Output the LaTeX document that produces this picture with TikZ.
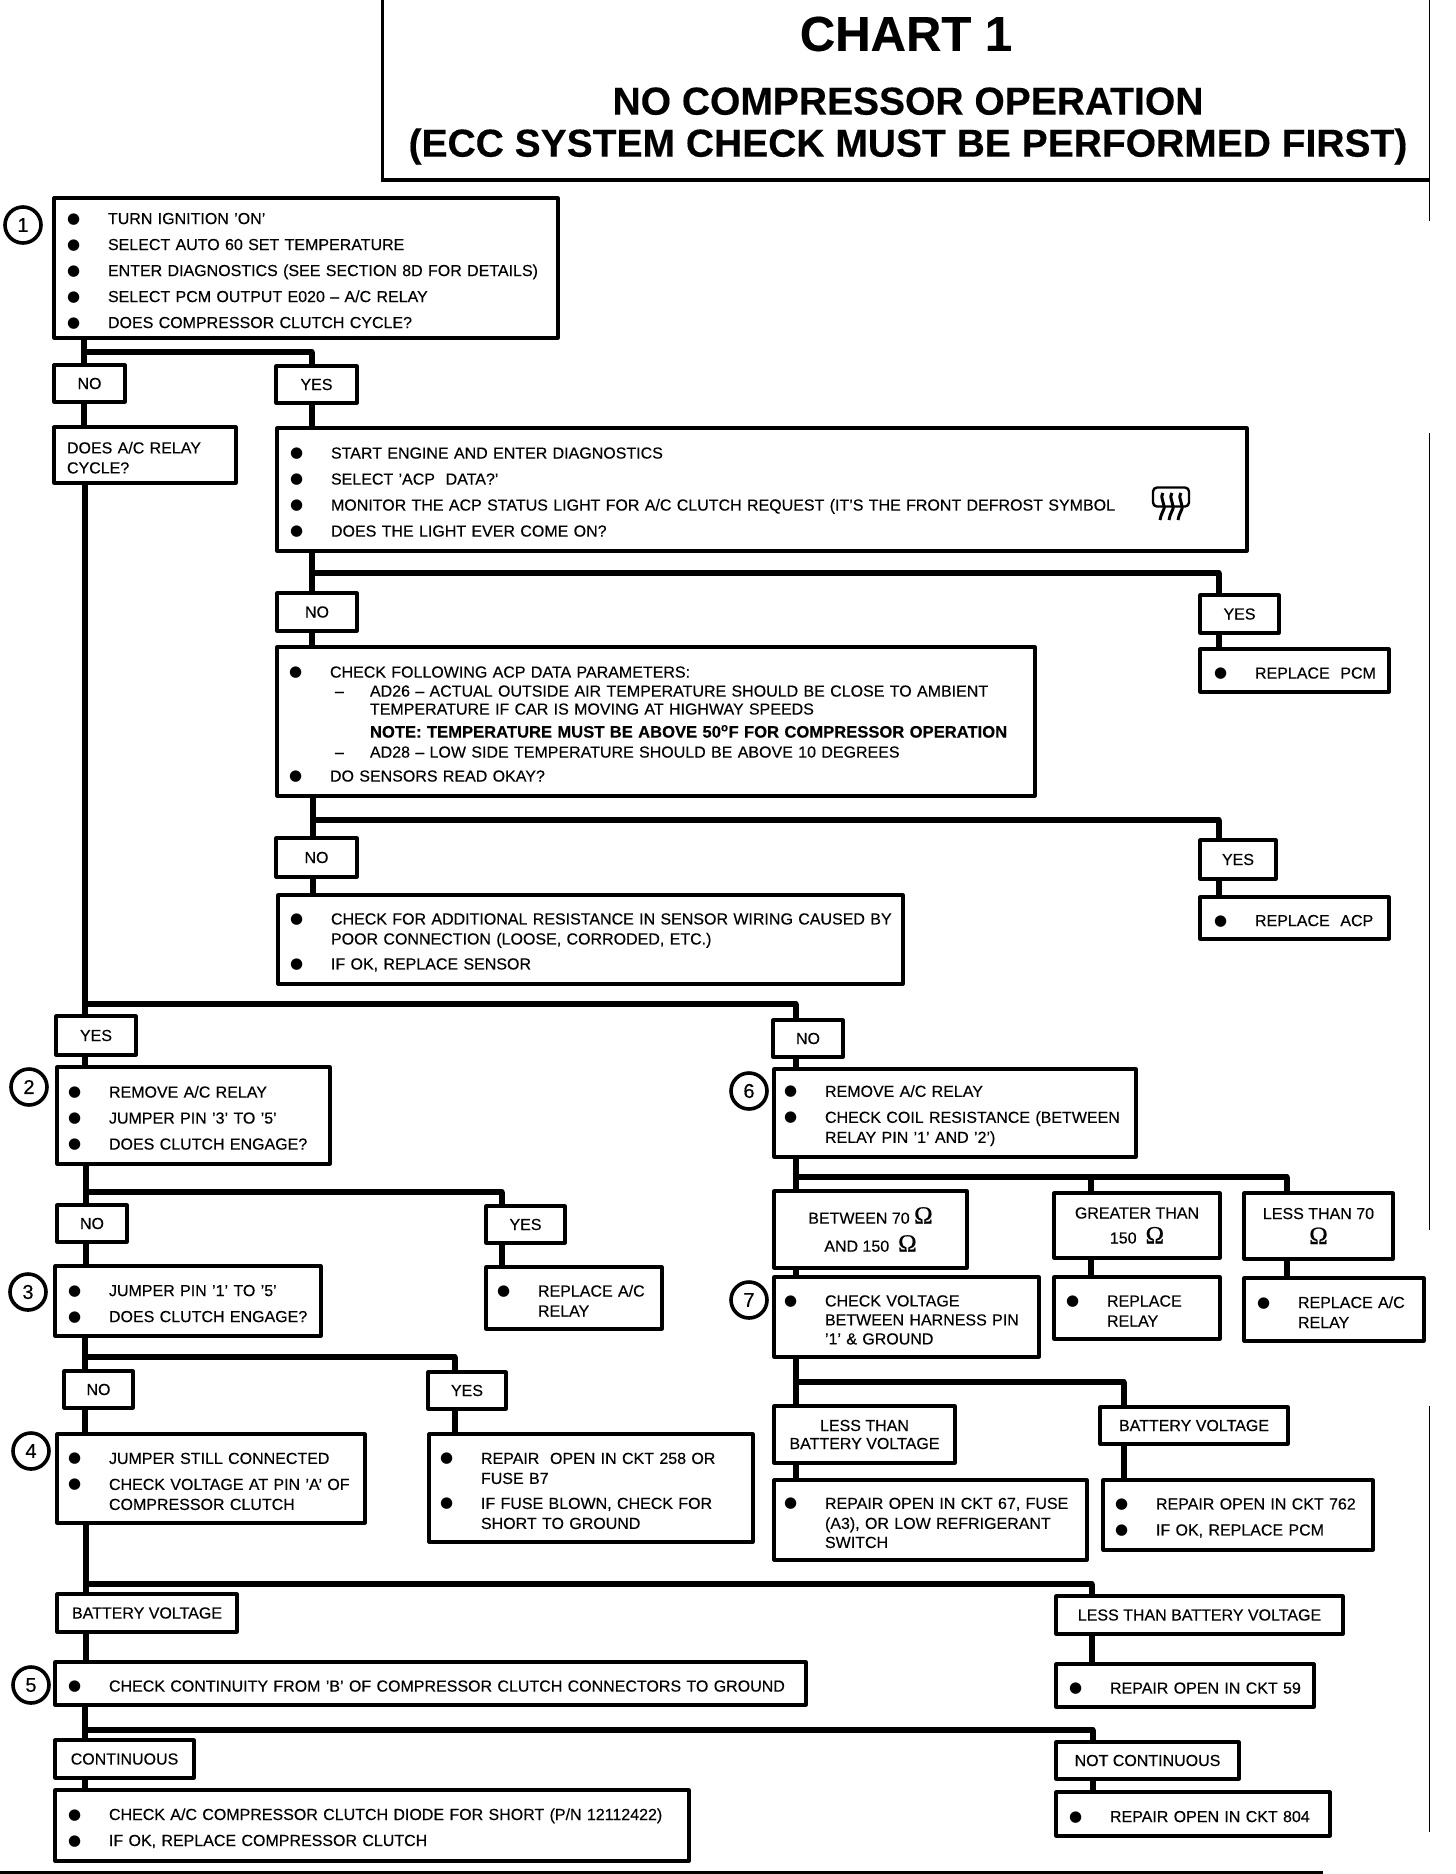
\documentclass[tikz,border=0pt]{standalone}
\usepackage{fontspec}
\setmainfont{Liberation Sans}[FakeBold=0.3]
\newfontfamily\ohmfont{Liberation Serif}[FakeBold=0.6]
\newfontfamily\dotfont{DejaVu Sans}
\usetikzlibrary{positioning}
\newcommand{\itemrow}[1]{\makebox[39pt][l]{\hspace*{-2pt}\raisebox{1pt}{\dotfont\fontsize{15}{15}\selectfont ●}}\mbox{#1}}
\newcommand{\controw}[1]{\hspace*{39pt}\mbox{#1}}
\newcommand{\subrow}[1]{\hspace*{44pt}\makebox[35pt][l]{--}\mbox{#1}}
\newcommand{\ohmsign}{{\ohmfont\fontsize{25}{25}\selectfont Ω}}

\begin{document}
\begin{tikzpicture}[x=1pt, y=1pt, node distance=20pt, line join=round]
    % Define block styles
    \tikzstyle{block} = [rectangle, draw, line width=3.2pt, align=left, inner xsep=15pt, inner ysep=0pt, outer sep=0pt, font=\fontsize{16}{20}\selectfont, execute at begin node={\rule{0pt}{17pt}}]
    \tikzstyle{answer} = [rectangle, draw, line width=3.2pt, align=center, inner sep=0pt, outer sep=0pt, font=\fontsize{16}{20}\selectfont]
    \tikzstyle{stepmark} = [circle, draw, line width=3.6pt, minimum size=36pt, inner sep=0pt, outer sep=0pt, font=\fontsize{20}{20}\selectfont]
    \tikzstyle{line} = [draw, line width=5.4pt]
    \tikzstyle{bar} = [draw, line width=5.4pt, line cap=round]
    \tikzstyle{faint} = [draw, line width=0.8pt]

    \useasboundingbox (0,0) rectangle (1456,-1874);

    % Title
    \draw [line width=3pt] (382,0) -- (382,-180);
    \draw [line width=4pt] (380.5,-180) -- (1429,-180);
    \path [faint] (1429,0) -- (1429,-221);
    \path [faint] (1429,-433) -- (1429,-1230);
    \path [faint] (1429,-1406) -- (1429,-1832);
    \node [font=\fontsize{49}{49}\selectfont\bfseries] (Chart_Title) at (906,-34) {CHART 1};
    \node [below=29pt of Chart_Title, xshift=2pt, align=center, font=\fontsize{39}{42}\selectfont\bfseries] (Chart_Subtitle) {NO COMPRESSOR OPERATION\\(ECC SYSTEM CHECK MUST BE PERFORMED FIRST)};

    % Nodes
    \node [block, anchor=north west, text width=474pt, minimum height=140pt] (Turn_Ignition) at (54,-198) {\itemrow{TURN IGNITION 'ON'}\\[6pt]\itemrow{SELECT AUTO 60 SET TEMPERATURE}\\[6pt]\itemrow{ENTER DIAGNOSTICS (SEE SECTION 8D FOR DETAILS)}\\[6pt]\itemrow{SELECT PCM OUTPUT E020 -- A/C RELAY}\\[6pt]\itemrow{DOES COMPRESSOR CLUTCH CYCLE?}};
    \node [answer, below right=27pt and 0pt of Turn_Ignition.south west, minimum width=71pt, minimum height=37pt] (No_One) {NO};
    \node [answer, below right=28pt and 222pt of Turn_Ignition.south west, minimum width=81pt, minimum height=37pt] (Yes_One) {YES};
    \node [block, below right=25pt and 0pt of No_One.south west, inner xsep=13pt, text width=156pt, minimum height=56pt] (Relay_Cycle) {DOES A/C RELAY\\CYCLE?};
    \node [block, below right=25pt and 1pt of Yes_One.south west, text width=940pt, minimum height=123pt] (Start_Engine) {\itemrow{START ENGINE AND ENTER DIAGNOSTICS}\\[6pt]\itemrow{SELECT 'ACP\ \ DATA?'}\\[6pt]\itemrow{MONITOR THE ACP STATUS LIGHT FOR A/C CLUTCH REQUEST (IT'S THE FRONT DEFROST SYMBOL}\\[6pt]\itemrow{DOES THE LIGHT EVER COME ON?}};
    \node [answer, below right=42pt and 0pt of Start_Engine.south west, minimum width=80pt, minimum height=38pt] (No_Two) {NO};
    \node [answer, below right=44pt and 923pt of Start_Engine.south west, minimum width=79pt, minimum height=38pt] (Yes_Two) {YES};
    \node [block, below right=16pt and 0pt of No_Two.south west, inner xsep=14pt, text width=730pt, minimum height=149pt] (Check_Data) {\itemrow{CHECK FOLLOWING ACP DATA PARAMETERS:}\\[-1pt]\subrow{AD26 -- ACTUAL OUTSIDE AIR TEMPERATURE SHOULD BE CLOSE TO AMBIENT}\\[-2pt]\controw{\hspace*{40pt}TEMPERATURE IF CAR IS MOVING AT HIGHWAY SPEEDS}\\[3pt]\controw{\hspace*{40pt}\fontsize{16.6}{20}\selectfont\bfseries NOTE: TEMPERATURE MUST BE ABOVE 50\textsuperscript{o}F FOR COMPRESSOR OPERATION}\\\subrow{AD28 -- LOW SIDE TEMPERATURE SHOULD BE ABOVE 10 DEGREES}\\[4pt]\itemrow{DO SENSORS READ OKAY?}};
    \node [block, below right=16pt and 0pt of Yes_Two.south west, inner xsep=16pt, text width=157pt, minimum height=43pt] (Replace_Pcm) {\itemrow{REPLACE\ \ PCM}};
    \node [answer, below right=42pt and -1pt of Check_Data.south west, minimum width=81pt, minimum height=39pt] (No_Three) {NO};
    \node [answer, below right=44pt and 923pt of Check_Data.south west, minimum width=76pt, minimum height=39pt] (Yes_Three) {YES};
    \node [block, below right=18pt and 2pt of No_Three.south west, inner xsep=14pt, text width=597pt, minimum height=89pt] (Check_Wiring) {\itemrow{CHECK FOR ADDITIONAL RESISTANCE IN SENSOR WIRING CAUSED BY}\\\controw{POOR CONNECTION (LOOSE, CORRODED, ETC.)}\\[5pt]\itemrow{IF OK, REPLACE SENSOR}};
    \node [block, below right=18pt and 0pt of Yes_Three.south west, inner xsep=16pt, text width=157pt, minimum height=42pt] (Replace_Acp) {\itemrow{REPLACE\ \ ACP}};

    \node [answer, below right=533pt and 2pt of Relay_Cycle.south west, minimum width=80pt, minimum height=39pt] (Yes_Four) {YES};
    \node [answer, below right=537pt and 719pt of Relay_Cycle.south west, minimum width=70pt, minimum height=37pt] (No_Four) {NO};
    \node [block, below right=12pt and 1pt of Yes_Four.south west, inner xsep=13pt, text width=247pt, minimum height=97pt] (Remove_Left) {\itemrow{REMOVE A/C RELAY}\\[6pt]\itemrow{JUMPER PIN '3' TO '5'}\\[6pt]\itemrow{DOES CLUTCH ENGAGE?}};
    \node [block, below right=12pt and 1pt of No_Four.south west, inner xsep=12pt, text width=338pt, minimum height=88pt] (Remove_Right) {\itemrow{REMOVE A/C RELAY}\\[6pt]\itemrow{CHECK COIL RESISTANCE (BETWEEN}\\\controw{RELAY PIN '1' AND '2')}};
    \node [answer, below right=41pt and 0pt of Remove_Left.south west, minimum width=70pt, minimum height=37pt] (No_Five) {NO};
    \node [answer, below right=42pt and 429pt of Remove_Left.south west, minimum width=79pt, minimum height=37pt] (Yes_Five) {YES};
    \node [answer, below right=34pt and 0pt of Remove_Right.south west, minimum width=193pt, minimum height=77pt] (Between_Ohms) {BETWEEN 70 \ohmsign\\[8pt]AND 150\ \ \ohmsign};
    \node [answer, below right=36pt and 280pt of Remove_Right.south west, minimum width=166pt, minimum height=65pt] (Greater_Ohms) {GREATER THAN\\[5pt]150\ \ \ohmsign};
    \node [answer, below right=36pt and 470pt of Remove_Right.south west, minimum width=149pt, minimum height=66pt] (Less_Ohms) {LESS THAN 70\\[5pt]\ohmsign};
    \node [block, below right=24pt and -2pt of No_Five.south west, text width=236pt, minimum height=70pt] (Jumper_One) {\itemrow{JUMPER PIN '1' TO '5'}\\[6pt]\itemrow{DOES CLUTCH ENGAGE?}};
    \node [block, below right=24pt and 0pt of Yes_Five.south west, inner xsep=13pt, text width=150pt, minimum height=62pt] (Replace_Relay_A) {\itemrow{REPLACE A/C}\\\controw{RELAY}};
    \node [block, below right=9pt and 0pt of Between_Ohms.south west, inner xsep=12pt, text width=241pt, minimum height=80pt] (Check_Voltage) {\itemrow{CHECK VOLTAGE}\\[-1pt]\controw{BETWEEN HARNESS PIN}\\[-1pt]\controw{'1' \& GROUND}};
    \node [block, below right=19pt and 0pt of Greater_Ohms.south west, inner xsep=14pt, text width=138pt, minimum height=62pt] (Replace_Relay_B) {\itemrow{REPLACE}\\\controw{RELAY}};
    \node [block, below right=19pt and 0pt of Less_Ohms.south west, text width=150pt, minimum height=63pt] (Replace_Relay_C) {\itemrow{REPLACE A/C}\\\controw{RELAY}};
    \node [answer, below right=35pt and 9pt of Jumper_One.south west, minimum width=69pt, minimum height=37pt] (No_Six) {NO};
    \node [answer, below right=36pt and 373pt of Jumper_One.south west, minimum width=78pt, minimum height=37pt] (Yes_Six) {YES};
    \node [answer, below right=49pt and 0pt of Check_Voltage.south west, minimum width=181pt, minimum height=57pt, font=\fontsize{16}{18}\selectfont] (Less_Battery) {LESS THAN\\BATTERY VOLTAGE};
    \node [answer, below right=50pt and 326pt of Check_Voltage.south west, minimum width=188pt, minimum height=37pt] (Battery_Right) {BATTERY VOLTAGE};
    \node [block, below right=26pt and -7pt of No_Six.south west, inner xsep=13pt, text width=282pt, minimum height=89pt] (Jumper_Two) {\itemrow{JUMPER STILL CONNECTED}\\[6pt]\itemrow{CHECK VOLTAGE AT PIN 'A' OF}\\\controw{COMPRESSOR CLUTCH}};
    \node [block, below right=25pt and 1pt of Yes_Six.south west, inner xsep=13pt, text width=298pt, minimum height=108pt] (Repair_258) {\itemrow{REPAIR\ \ OPEN IN CKT 258 OR}\\\controw{FUSE B7}\\[5pt]\itemrow{IF FUSE BLOWN, CHECK FOR}\\\controw{SHORT TO GROUND}};
    \node [block, below right=17pt and 0pt of Less_Battery.south west, inner xsep=12pt, text width=289pt, minimum height=80pt] (Repair_67) {\itemrow{REPAIR OPEN IN CKT 67, FUSE}\\\controw{(A3), OR LOW REFRIGERANT}\\[-1pt]\controw{SWITCH}};
    \node [block, below right=36pt and 3pt of Battery_Right.south west, inner xsep=14pt, text width=242pt, minimum height=70pt] (Repair_762) {\itemrow{REPAIR OPEN IN CKT 762}\\[6pt]\itemrow{IF OK, REPLACE PCM}};
    \node [answer, below right=71pt and 0pt of Jumper_Two.south west, minimum width=180pt, minimum height=38pt] (Battery_Left) {BATTERY VOLTAGE};
    \node [answer, below right=73pt and 999pt of Jumper_Two.south west, minimum width=287pt, minimum height=38pt] (Less_Long) {LESS THAN BATTERY VOLTAGE};
    \node [block, below right=30pt and -2pt of Battery_Left.south west, text width=721pt, minimum height=43pt] (Check_Continuity) {\itemrow{CHECK CONTINUITY FROM 'B' OF COMPRESSOR CLUTCH CONNECTORS TO GROUND}};
    \node [block, below right=30pt and 0pt of Less_Long.south west, text width=228pt, minimum height=43pt] (Repair_59) {\itemrow{REPAIR OPEN IN CKT 59}};
    \node [answer, below right=35pt and 0pt of Check_Continuity.south west, minimum width=139pt, minimum height=38pt] (Continuous) {CONTINUOUS};
    \node [answer, below right=37pt and 1001pt of Check_Continuity.south west, minimum width=183pt, minimum height=37pt] (Not_Continuous) {NOT CONTINUOUS};
    \node [block, below right=12pt and 0pt of Continuous.south west, text width=604pt, minimum height=71pt] (Check_Diode) {\itemrow{CHECK A/C COMPRESSOR CLUTCH DIODE FOR SHORT (P/N 12112422)}\\[6pt]\itemrow{IF OK, REPLACE COMPRESSOR CLUTCH}};
    \node [block, below right=13pt and 0pt of Not_Continuous.south west, text width=244pt, minimum height=44pt] (Repair_804) {\itemrow{REPAIR OPEN IN CKT 804}};

    % Step numbers
    \node [stepmark, left=13pt of Turn_Ignition.north west, yshift=-27pt] (Step_1) {1};
    \node [stepmark, left=10pt of Remove_Left.north west, yshift=-20pt] (Step_2) {2};
    \node [stepmark, left=9pt of Jumper_One.north west, yshift=-26pt] (Step_3) {3};
    \node [stepmark, left=8pt of Jumper_Two.north west, yshift=-17pt] (Step_4) {4};
    \node [stepmark, left=6pt of Check_Continuity.north west, yshift=-23pt] (Step_5) {5};
    \node [stepmark, left=7pt of Remove_Right.north west, yshift=-22pt] (Step_6) {6};
    \node [stepmark, left=7pt of Check_Voltage.north west, yshift=-23pt] (Step_7) {7};

    % Defrost symbol
    \node [draw, line width=2.4pt, rounded corners=4pt, minimum width=36pt, minimum height=19pt, inner sep=0pt, outer sep=0pt] (Defrost_Frame) at (1171,-497) {};
    \foreach \xpos in {1163,1172,1181}
        \draw [line width=3pt] (\xpos,-493) .. controls (\xpos-4,-499) and (\xpos+4,-505) .. (\xpos,-511) .. controls (\xpos-2,-514) and (\xpos-2,-517) .. (\xpos-3,-520);

    % Forks
    \coordinate [below right=14pt and 30pt of Turn_Ignition.south west] (Fork_One);
    \coordinate [right=228pt of Fork_One] (Turn_One);
    \coordinate [below right=22pt and 35pt of Start_Engine.south west] (Fork_Two);
    \coordinate [right=907pt of Fork_Two] (Turn_Two);
    \coordinate [below right=24pt and 36pt of Check_Data.south west] (Fork_Three);
    \coordinate [right=906pt of Fork_Three] (Turn_Three);
    \coordinate [below right=521pt and 31pt of Relay_Cycle.south west] (Fork_Four);
    \coordinate [right=711pt of Fork_Four] (Turn_Four);
    \coordinate [below right=28pt and 29pt of Remove_Left.south west] (Fork_Five);
    \coordinate [right=416pt of Fork_Five] (Turn_Five);
    \coordinate [below right=20pt and 22pt of Remove_Right.south west] (Fork_Ohms);
    \coordinate [right=295pt of Fork_Ohms] (Mid_Ohms);
    \coordinate [right=491pt of Fork_Ohms] (Turn_Ohms);
    \coordinate [below right=21pt and 30pt of Jumper_One.south west] (Fork_Six);
    \coordinate [right=370pt of Fork_Six] (Turn_Six);
    \coordinate [below right=25pt and 22pt of Check_Voltage.south west] (Fork_Volt);
    \coordinate [right=328pt of Fork_Volt] (Turn_Volt);
    \coordinate [below right=61pt and 29pt of Jumper_Two.south west] (Fork_Seven);
    \coordinate [right=1006pt of Fork_Seven] (Turn_Seven);
    \coordinate [below right=25pt and 30pt of Check_Continuity.south west] (Fork_Eight);
    \coordinate [right=1008pt of Fork_Eight] (Turn_Eight);

    % Arrows
    \path [bar] (Fork_One) -- (Turn_One);
    \path [line] (Turn_Ignition.south -| Fork_One) -- (Fork_One |- No_One.north);
    \path [line] (Turn_One) -- (Turn_One |- Yes_One.north);
    \path [line] (Fork_One |- No_One.south) -- (Fork_One |- Relay_Cycle.north);
    \path [line] (Turn_One |- Yes_One.south) -- (Turn_One |- Start_Engine.north);

    \path [bar] (Fork_Two) -- (Turn_Two);
    \path [line] (Start_Engine.south -| Fork_Two) -- (Fork_Two |- No_Two.north);
    \path [line] (Turn_Two) -- (Turn_Two |- Yes_Two.north);
    \path [line] (Fork_Two |- No_Two.south) -- (Fork_Two |- Check_Data.north);
    \path [line] (Turn_Two |- Yes_Two.south) -- (Turn_Two |- Replace_Pcm.north);

    \path [bar] (Fork_Three) -- (Turn_Three);
    \path [line] (Check_Data.south -| Fork_Three) -- (Fork_Three |- No_Three.north);
    \path [line] (Turn_Three) -- (Turn_Three |- Yes_Three.north);
    \path [line] (Fork_Three |- No_Three.south) -- (Fork_Three |- Check_Wiring.north);
    \path [line] (Turn_Three |- Yes_Three.south) -- (Turn_Three |- Replace_Acp.north);

    \path [bar] (Fork_Four) -- (Turn_Four);
    \path [line] (Relay_Cycle.south -| Fork_Four) -- (Fork_Four |- Yes_Four.north);
    \path [line] (Turn_Four) -- (Turn_Four |- No_Four.north);
    \path [line] (Fork_Four |- Yes_Four.south) -- (Fork_Four |- Remove_Left.north);
    \path [line] (Turn_Four |- No_Four.south) -- (Turn_Four |- Remove_Right.north);

    \path [bar] (Fork_Five) -- (Turn_Five);
    \path [line] (Remove_Left.south -| Fork_Five) -- (Fork_Five |- No_Five.north);
    \path [line] (Turn_Five) -- (Turn_Five |- Yes_Five.north);
    \path [line] (Fork_Five |- No_Five.south) -- (Fork_Five |- Jumper_One.north);
    \path [line] (Turn_Five |- Yes_Five.south) -- (Turn_Five |- Replace_Relay_A.north);

    \path [bar] (Fork_Ohms) -- (Turn_Ohms);
    \path [line] (Remove_Right.south -| Fork_Ohms) -- (Fork_Ohms |- Between_Ohms.north);
    \path [line] (Mid_Ohms) -- (Mid_Ohms |- Greater_Ohms.north);
    \path [line] (Turn_Ohms) -- (Turn_Ohms |- Less_Ohms.north);
    \path [line] (Fork_Ohms |- Between_Ohms.south) -- (Fork_Ohms |- Check_Voltage.north);
    \path [line] (Mid_Ohms |- Greater_Ohms.south) -- (Mid_Ohms |- Replace_Relay_B.north);
    \path [line] (Turn_Ohms |- Less_Ohms.south) -- (Turn_Ohms |- Replace_Relay_C.north);

    \path [bar] (Fork_Six) -- (Turn_Six);
    \path [line] (Jumper_One.south -| Fork_Six) -- (Fork_Six |- No_Six.north);
    \path [line] (Turn_Six) -- (Turn_Six |- Yes_Six.north);
    \path [line] (Fork_Six |- No_Six.south) -- (Fork_Six |- Jumper_Two.north);
    \path [line] (Turn_Six |- Yes_Six.south) -- (Turn_Six |- Repair_258.north);

    \path [bar] (Fork_Volt) -- (Turn_Volt);
    \path [line] (Check_Voltage.south -| Fork_Volt) -- (Fork_Volt |- Less_Battery.north);
    \path [line] (Turn_Volt) -- (Turn_Volt |- Battery_Right.north);
    \path [line] (Fork_Volt |- Less_Battery.south) -- (Fork_Volt |- Repair_67.north);
    \path [line] (Turn_Volt |- Battery_Right.south) -- (Turn_Volt |- Repair_762.north);

    \path [bar] (Fork_Seven) -- (Turn_Seven);
    \path [line] (Jumper_Two.south -| Fork_Seven) -- (Fork_Seven |- Battery_Left.north);
    \path [line] (Turn_Seven) -- (Turn_Seven |- Less_Long.north);
    \path [line] (Fork_Seven |- Battery_Left.south) -- (Fork_Seven |- Check_Continuity.north);
    \path [line] (Turn_Seven |- Less_Long.south) -- (Turn_Seven |- Repair_59.north);

    \path [bar] (Fork_Eight) -- (Turn_Eight);
    \path [line] (Check_Continuity.south -| Fork_Eight) -- (Fork_Eight |- Continuous.north);
    \path [line] (Turn_Eight) -- (Turn_Eight |- Not_Continuous.north);
    \path [line] (Fork_Eight |- Continuous.south) -- (Fork_Eight |- Check_Diode.north);
    \path [line] (Turn_Eight |- Not_Continuous.south) -- (Turn_Eight |- Repair_804.north);

    % Bottom rule
    \draw [line width=3pt] (0,-1872) -- (1323,-1872);
\end{tikzpicture}
\end{document}
